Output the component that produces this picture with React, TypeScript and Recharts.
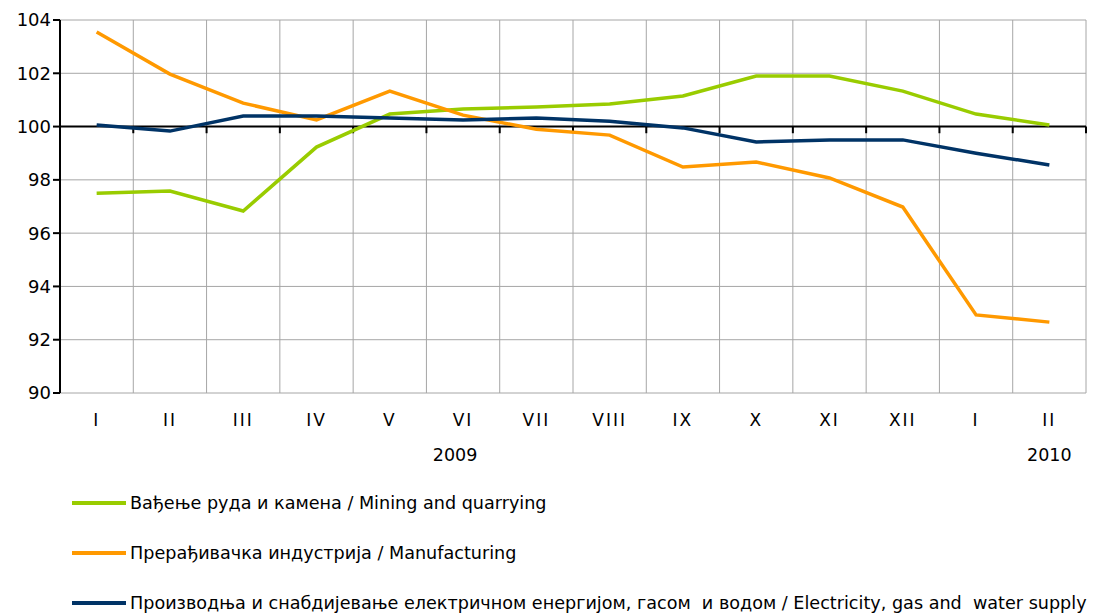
import { CartesianGrid, Legend, Line, LineChart, ReferenceLine, XAxis, YAxis } from 'recharts'

const months = ['I', 'II', 'III', 'IV', 'V', 'VI', 'VII', 'VIII', 'IX', 'X', 'XI', 'XII', 'I', 'II']
const years = ['', '', '', '', '', '2009', '', '', '', '', '', '', '', '2010']

const mining = [97.5, 97.58, 96.83, 99.23, 100.47, 100.66, 100.73, 100.85, 101.15, 101.9, 101.9, 101.33, 100.47, 100.06]
const manufacturing = [103.55, 101.97, 100.88, 100.25, 101.33, 100.43, 99.9, 99.68, 98.48, 98.67, 98.07, 96.98, 92.93, 92.66]
const electricity = [100.06, 99.83, 100.4, 100.4, 100.32, 100.25, 100.32, 100.2, 99.95, 99.42, 99.5, 99.5, 99.0, 98.56]

const yTicks = [90, 92, 94, 96, 98, 100, 102, 104]

const seriesInfo = [
  { key: 'mining', color: '#99cc00', name: 'Вађење руда и камена / Mining and quarrying' },
  { key: 'manufacturing', color: '#ff9900', name: 'Прерађивачка индустрија / Manufacturing' },
  { key: 'electricity', color: '#003366', name: 'Производња и снабдијевање електричном енергијом, гасом  и водом / Electricity, gas and  water supply' },
]

const data = months.map((m, i) => ({
  x: i,
  month: m,
  mining: mining[i],
  manufacturing: manufacturing[i],
  electricity: electricity[i],
}))

const boundaries = months.map((_, i) => i - 0.5).concat(months.length - 0.5)
const font = '"DejaVu Sans", sans-serif'

function MonthTick(props: any) {
  const { x, y, payload } = props
  const i = payload.value
  return (
    <g>
      <text x={x} y={y + 25} textAnchor='middle' fontSize={17} letterSpacing={2} fontFamily={font} fill='#000'>
        {months[i]}
      </text>
      {years[i] && (
        <text x={i === 5 ? x - 8 : x} y={y + 60} textAnchor='middle' fontSize={17.5} fontFamily={font} fill='#000'>
          {years[i]}
        </text>
      )}
    </g>
  )
}

function LegendBox() {
  return (
    <div style={{ paddingTop: 30, paddingLeft: 72, fontFamily: font, fontSize: 17.6, color: '#000' }}>
      {seriesInfo.map((s) => (
        <div key={s.key} style={{ display: 'flex', alignItems: 'center', height: 20, marginBottom: 30, whiteSpace: 'pre' }}>
          <span style={{ display: 'inline-block', width: 54, height: 4, background: s.color, marginRight: 4 }} />
          <span>{s.name}</span>
        </div>
      ))}
    </div>
  )
}

export default function App() {
  return (
    <div style={{ position: 'absolute', left: 0, top: 0, background: '#fff' }}>
      <LineChart width={1101} height={615} data={data} margin={{ top: 20, right: 15, left: 0, bottom: 2 }}>
        <CartesianGrid vertical={false} stroke='#a6a6a6' />
        {boundaries.map((b) => (
          <ReferenceLine key={'g' + b} x={b} stroke='#a6a6a6' />
        ))}
        <XAxis
          type='number'
          dataKey='x'
          domain={[-0.5, 13.5]}
          ticks={months.map((_, i) => i)}
          interval={0}
          axisLine={false}
          tickLine={false}
          height={70}
          tick={<MonthTick />}
        />
        <YAxis
          domain={[90, 104]}
          ticks={yTicks}
          width={60}
          axisLine={{ stroke: '#000', strokeWidth: 2 }}
          tickLine={{ stroke: '#000', strokeWidth: 2 }}
          tickSize={7}
          tick={{ fill: '#000', fontSize: 18, fontFamily: font }}
        />
        <ReferenceLine y={100} stroke='#000' strokeWidth={2} />
        {boundaries.map((b) => (
          <ReferenceLine key={'t' + b} segment={[{ x: b, y: 100 }, { x: b, y: 99.75 }]} stroke='#000' strokeWidth={2} />
        ))}
        {seriesInfo.map((s) => (
          <Line
            key={s.key}
            type='linear'
            dataKey={s.key}
            name={s.name}
            stroke={s.color}
            strokeWidth={3.5}
            dot={false}
            isAnimationActive={false}
          />
        ))}
        <Legend verticalAlign='bottom' align='left' height={150} content={() => <LegendBox />} wrapperStyle={{ left: 0, width: 1101 }} />
      </LineChart>
    </div>
  )
}
